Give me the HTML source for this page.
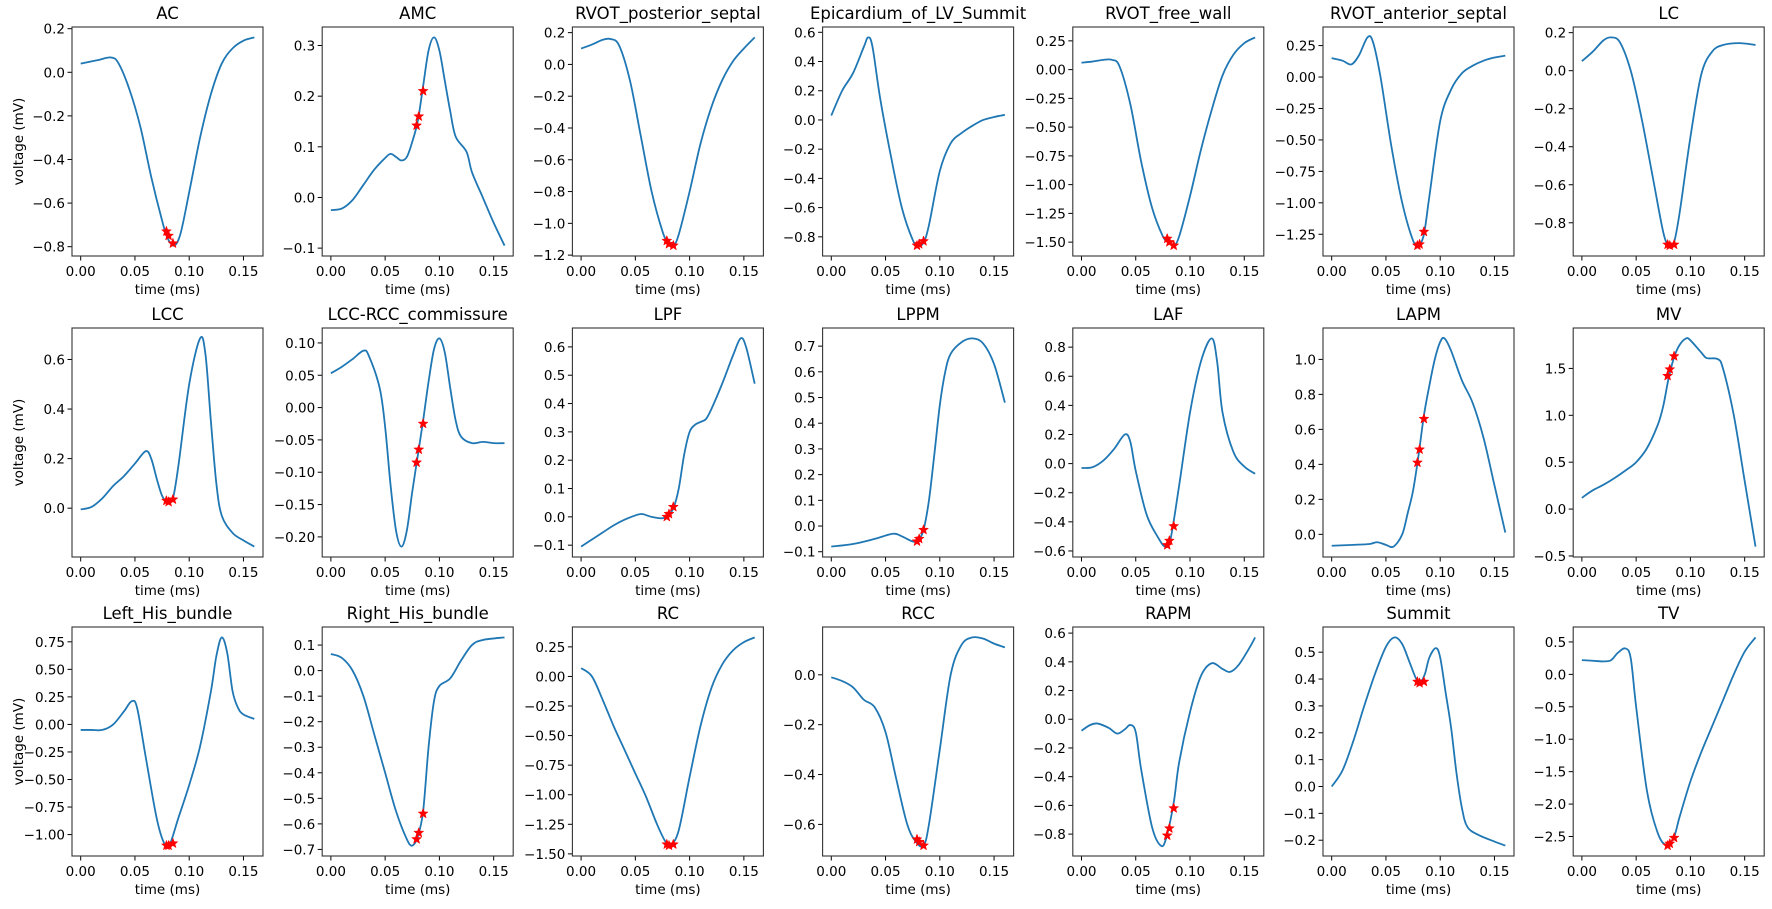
<!DOCTYPE html>
<html><head><meta charset="utf-8">
<style>
html,body{margin:0;padding:0;background:#fff;}
svg{display:block;font-family:"DejaVu Sans","Liberation Sans",sans-serif;}
</style></head>
<body>
<svg id="fig" width="1772" height="909" viewBox="0 0 1772 909" xmlns="http://www.w3.org/2000/svg"></svg>
<script>
// ---- data ----
const titles = ["AC","AMC","RVOT_posterior_septal","Epicardium_of_LV_Summit","RVOT_free_wall","RVOT_anterior_septal","LC",
"LCC","LCC-RCC_commissure","LPF","LPPM","LAF","LAPM","MV",
"Left_His_bundle","Right_His_bundle","RC","RCC","RAPM","Summit","TV"];
const xTicks = [0,0.05,0.10,0.15];
const xTickLabels = ["0.00","0.05","0.10","0.15"];
const times = [
[0,0.015,0.028,0.035,0.045,0.055,0.065,0.075,0.08,0.086,0.092,0.1,0.11,0.12,0.13,0.14,0.15,0.16],
[0,0.01,0.02,0.03,0.04,0.05,0.055,0.06,0.065,0.07,0.075,0.08,0.085,0.09,0.095,0.1,0.105,0.11,0.115,0.125,0.13,0.14,0.15,0.16],
[0,0.01,0.02,0.027,0.035,0.045,0.055,0.065,0.075,0.08,0.085,0.09,0.1,0.11,0.12,0.13,0.14,0.15,0.16],
[0,0.01,0.02,0.03,0.034,0.038,0.045,0.055,0.065,0.075,0.08,0.085,0.09,0.1,0.11,0.12,0.13,0.14,0.15,0.16],
[0,0.01,0.02,0.028,0.035,0.045,0.055,0.065,0.075,0.08,0.085,0.09,0.1,0.11,0.12,0.13,0.14,0.15,0.16],
[0,0.01,0.018,0.025,0.033,0.038,0.045,0.055,0.065,0.075,0.08,0.085,0.09,0.1,0.11,0.12,0.13,0.14,0.15,0.16],
[0,0.01,0.02,0.027,0.035,0.045,0.055,0.065,0.075,0.08,0.085,0.09,0.1,0.11,0.12,0.13,0.145,0.16],
[0,0.01,0.02,0.03,0.04,0.05,0.06,0.065,0.07,0.075,0.08,0.085,0.09,0.1,0.11,0.115,0.12,0.125,0.13,0.14,0.15,0.16],
[0,0.01,0.02,0.03,0.035,0.045,0.05,0.055,0.06,0.065,0.07,0.075,0.08,0.085,0.09,0.095,0.1,0.105,0.11,0.115,0.12,0.13,0.14,0.15,0.16],
[0,0.01,0.02,0.03,0.04,0.05,0.056,0.065,0.075,0.08,0.085,0.09,0.095,0.1,0.105,0.11,0.115,0.12,0.13,0.14,0.147,0.152,0.16],
[0,0.02,0.04,0.057,0.065,0.075,0.08,0.085,0.09,0.095,0.1,0.105,0.11,0.12,0.13,0.14,0.15,0.16],
[0,0.01,0.02,0.03,0.04,0.045,0.05,0.06,0.07,0.077,0.082,0.09,0.1,0.11,0.12,0.125,0.13,0.14,0.15,0.16],
[0,0.02,0.035,0.042,0.05,0.057,0.065,0.07,0.075,0.08,0.085,0.09,0.095,0.1,0.104,0.11,0.12,0.13,0.14,0.15,0.16],
[0,0.01,0.02,0.03,0.04,0.05,0.06,0.07,0.075,0.08,0.085,0.09,0.096,0.1,0.11,0.115,0.125,0.13,0.14,0.15,0.16],
[0,0.01,0.02,0.03,0.04,0.047,0.052,0.06,0.07,0.077,0.082,0.09,0.1,0.11,0.12,0.125,0.13,0.135,0.14,0.145,0.15,0.16],
[0,0.01,0.02,0.03,0.04,0.05,0.06,0.07,0.075,0.08,0.085,0.09,0.095,0.1,0.11,0.12,0.13,0.14,0.16],
[0,0.01,0.02,0.03,0.04,0.05,0.06,0.07,0.078,0.083,0.09,0.1,0.11,0.12,0.13,0.14,0.15,0.16],
[0,0.01,0.02,0.03,0.04,0.05,0.06,0.07,0.078,0.085,0.09,0.1,0.11,0.12,0.13,0.14,0.15,0.16],
[0,0.008,0.015,0.025,0.033,0.04,0.045,0.05,0.055,0.065,0.073,0.078,0.085,0.09,0.1,0.11,0.12,0.13,0.137,0.145,0.155,0.16],
[0,0.01,0.02,0.03,0.04,0.05,0.058,0.065,0.072,0.078,0.082,0.086,0.09,0.096,0.1,0.105,0.11,0.115,0.12,0.125,0.135,0.15,0.16],
[0,0.01,0.02,0.027,0.033,0.04,0.045,0.05,0.06,0.07,0.078,0.085,0.09,0.1,0.11,0.12,0.13,0.14,0.15,0.16]
];
const values = [
[0.04,0.055,0.068,0.04,-0.08,-0.25,-0.48,-0.68,-0.76,-0.795,-0.74,-0.55,-0.3,-0.1,0.04,0.11,0.145,0.16],
[-0.025,-0.022,-0.005,0.025,0.055,0.078,0.086,0.08,0.073,0.08,0.11,0.15,0.22,0.29,0.316,0.29,0.23,0.17,0.12,0.09,0.05,0.0,-0.05,-0.095],
[0.1,0.125,0.155,0.16,0.12,-0.1,-0.45,-0.8,-1.05,-1.12,-1.14,-1.07,-0.8,-0.5,-0.27,-0.1,0.02,0.1,0.17],
[0.03,0.2,0.32,0.5,0.565,0.5,0.15,-0.25,-0.6,-0.82,-0.86,-0.84,-0.72,-0.35,-0.16,-0.09,-0.04,0.0,0.02,0.035],
[0.06,0.07,0.085,0.085,0.03,-0.3,-0.8,-1.2,-1.45,-1.5,-1.53,-1.45,-1.1,-0.7,-0.35,-0.05,0.13,0.23,0.28],
[0.15,0.13,0.1,0.17,0.315,0.28,0.0,-0.55,-1.0,-1.3,-1.34,-1.25,-0.95,-0.35,-0.1,0.03,0.09,0.13,0.155,0.17],
[0.05,0.1,0.16,0.175,0.15,0.0,-0.25,-0.55,-0.85,-0.915,-0.9,-0.75,-0.35,-0.02,0.1,0.135,0.145,0.135],
[-0.005,0.005,0.04,0.09,0.13,0.18,0.23,0.2,0.12,0.05,0.025,0.04,0.17,0.5,0.685,0.62,0.35,0.1,-0.03,-0.1,-0.13,-0.155],
[0.053,0.063,0.075,0.088,0.08,0.03,-0.03,-0.12,-0.19,-0.215,-0.19,-0.13,-0.075,-0.02,0.04,0.09,0.107,0.085,0.03,-0.02,-0.045,-0.055,-0.053,-0.055,-0.055],
[-0.105,-0.08,-0.055,-0.03,-0.01,0.005,0.01,0.0,-0.005,0.005,0.03,0.1,0.22,0.3,0.325,0.335,0.345,0.38,0.47,0.57,0.63,0.6,0.47],
[-0.08,-0.07,-0.05,-0.03,-0.04,-0.06,-0.055,-0.015,0.1,0.28,0.47,0.6,0.67,0.715,0.73,0.71,0.63,0.48],
[-0.03,-0.025,0.02,0.1,0.2,0.15,-0.05,-0.35,-0.5,-0.57,-0.52,-0.15,0.35,0.7,0.86,0.7,0.35,0.08,-0.02,-0.07],
[-0.065,-0.06,-0.055,-0.045,-0.06,-0.07,0.0,0.12,0.25,0.45,0.68,0.85,1.0,1.1,1.12,1.05,0.88,0.75,0.55,0.28,0.01],
[0.12,0.2,0.26,0.33,0.41,0.5,0.65,0.9,1.1,1.4,1.62,1.75,1.82,1.8,1.67,1.61,1.6,1.5,1.0,0.3,-0.4],
[-0.05,-0.05,-0.05,0.0,0.12,0.21,0.15,-0.3,-0.85,-1.08,-1.09,-0.85,-0.55,-0.2,0.3,0.62,0.79,0.65,0.3,0.15,0.09,0.05],
[0.065,0.05,0.0,-0.1,-0.25,-0.4,-0.55,-0.66,-0.685,-0.65,-0.55,-0.3,-0.12,-0.06,-0.03,0.04,0.1,0.12,0.13],
[0.07,0.0,-0.2,-0.42,-0.62,-0.82,-1.02,-1.25,-1.4,-1.42,-1.3,-0.85,-0.42,-0.1,0.1,0.22,0.29,0.33],
[-0.01,-0.025,-0.05,-0.1,-0.13,-0.23,-0.42,-0.6,-0.67,-0.685,-0.6,-0.3,0.0,0.12,0.15,0.145,0.125,0.11],
[-0.08,-0.04,-0.03,-0.06,-0.1,-0.07,-0.04,-0.09,-0.35,-0.75,-0.88,-0.83,-0.58,-0.3,0.05,0.3,0.39,0.35,0.33,0.38,0.5,0.57],
[0.0,0.06,0.17,0.3,0.42,0.52,0.555,0.53,0.46,0.4,0.39,0.42,0.48,0.515,0.48,0.35,0.22,0.05,-0.08,-0.15,-0.18,-0.205,-0.22],
[0.22,0.21,0.2,0.22,0.33,0.4,0.25,-0.5,-1.8,-2.45,-2.63,-2.5,-2.2,-1.65,-1.2,-0.8,-0.4,0.0,0.35,0.57]
];
const starTimes = [0.079,0.081,0.085];
const starValues = [
[-0.73,-0.75,-0.785],[0.142,0.16,0.21],[-1.11,-1.13,-1.14],[-0.86,-0.85,-0.83],[-1.47,-1.5,-1.53],[-1.34,-1.33,-1.23],[-0.915,-0.92,-0.915],
[0.03,0.025,0.035],[-0.085,-0.065,-0.025],[0.0,0.01,0.035],[-0.06,-0.05,-0.015],[-0.56,-0.53,-0.43],[0.41,0.485,0.66],[1.42,1.49,1.63],
[-1.1,-1.1,-1.08],[-0.66,-0.635,-0.56],[-1.42,-1.43,-1.42],[-0.66,-0.67,-0.685],[-0.81,-0.76,-0.62],[0.39,0.385,0.39],[-2.64,-2.61,-2.52]
];
const yTicks = [
[0.2,0,-0.2,-0.4,-0.6,-0.8],[0.3,0.2,0.1,0,-0.1],[0.2,0,-0.2,-0.4,-0.6,-0.8,-1.0,-1.2],[0.6,0.4,0.2,0,-0.2,-0.4,-0.6,-0.8],
[0.25,0,-0.25,-0.5,-0.75,-1.0,-1.25,-1.5],[0.25,0,-0.25,-0.5,-0.75,-1.0,-1.25],[0.2,0,-0.2,-0.4,-0.6,-0.8],
[0.6,0.4,0.2,0],[0.1,0.05,0,-0.05,-0.1,-0.15,-0.2],[0.6,0.5,0.4,0.3,0.2,0.1,0,-0.1],[0.7,0.6,0.5,0.4,0.3,0.2,0.1,0,-0.1],
[0.8,0.6,0.4,0.2,0,-0.2,-0.4,-0.6],[1.0,0.8,0.6,0.4,0.2,0],[1.5,1.0,0.5,0,-0.5],
[0.75,0.5,0.25,0,-0.25,-0.5,-0.75,-1.0],[0.1,0,-0.1,-0.2,-0.3,-0.4,-0.5,-0.6,-0.7],[0.25,0,-0.25,-0.5,-0.75,-1.0,-1.25,-1.5],
[0,-0.2,-0.4,-0.6],[0.6,0.4,0.2,0,-0.2,-0.4,-0.6,-0.8],[0.5,0.4,0.3,0.2,0.1,0,-0.1,-0.2],[0.5,0,-0.5,-1.0,-1.5,-2.0,-2.5]
];
const yDecimals = [1,1,1,1,2,2,1, 1,2,1,1,1,1,1, 2,1,2,1,1,1,1];

// ---- layout ----
const NS="http://www.w3.org/2000/svg";
const svg=document.getElementById('fig');
const colLeft=72, colStep=250.2, axW=191, axH=229;
const rowTops=[27,328,627];
function mk(tag,attrs,parent){const e=document.createElementNS(NS,tag);for(const k in attrs)e.setAttribute(k,attrs[k]);(parent||svg).appendChild(e);return e;}
function fmt(v,d){let s=Math.abs(v).toFixed(d);return (v<-1e-9?"\u2212":"")+s;}

titles.forEach((title,i)=>{
  const col=i%7,row=Math.floor(i/7);
  const L=colLeft+colStep*col, T=rowTops[row], R=L+axW, B=T+axH;
  const g=mk('g',{});
  
  
  const ts=times[i], vs=values[i], sv=starValues[i];
  const all=vs.concat(sv);
  let mn=Math.min(...all), mx=Math.max(...all);
  const yr=mx-mn; const y0=mn-0.05*yr, y1=mx+0.05*yr;
  const x0=-0.008, x1=0.168;
  const X=t=>L+(t-x0)/(x1-x0)*axW;
  const Y=v=>B-(v-y0)/(y1-y0)*axH;
  // title
  const tt=mk('text',{x:(L+R)/2,y:T-8,'text-anchor':'middle','font-size':'16.5',fill:'#000'},g);
  tt.textContent=title;
  
  
  // x ticks
  xTicks.forEach((t,k)=>{
    const x=X(t);
    mk('line',{x1:x,y1:B,x2:x,y2:B+4.5,stroke:'#000','stroke-width':1},g);
    const tl=mk('text',{x:x,y:B+20,'text-anchor':'middle','font-size':'13.5',fill:'#000'},g);
    tl.textContent=xTickLabels[k];
    
    
  });
  const xl=mk('text',{x:(L+R)/2,y:B+38,'text-anchor':'middle','font-size':'13.5',fill:'#000'},g);
  xl.textContent='time (ms)';
  
  
  // y ticks
  yTicks[i].forEach(v=>{
    const y=Y(v);
    if(y<T-1||y>B+1)return;
    mk('line',{x1:L-4.5,y1:y,x2:L,y2:y,stroke:'#000','stroke-width':1},g);
    const yl=mk('text',{x:L-7,y:y+5,'text-anchor':'end','font-size':'13.5',fill:'#000'},g);
    yl.textContent=fmt(v,yDecimals[i]);
    
    
  });
  if(col===0){
    const yt=mk('text',{x:0,y:0,'text-anchor':'middle','font-size':'13.5',fill:'#000',transform:`translate(${L-49},${(T+B)/2}) rotate(-90)`},g);
    yt.textContent='voltage (mV)';
    
    
  }
  // curve (Catmull-Rom through pixel points)
  const P=ts.map((t,k)=>[X(t),Y(vs[k])]);
  let d='M'+P[0][0].toFixed(2)+','+P[0][1].toFixed(2);
  for(let k=0;k<P.length-1;k++){
    const p0=P[Math.max(0,k-1)],p1=P[k],p2=P[k+1],p3=P[Math.min(P.length-1,k+2)];
    const c1=[p1[0]+(p2[0]-p0[0])/6,p1[1]+(p2[1]-p0[1])/6];
    const c2=[p2[0]-(p3[0]-p1[0])/6,p2[1]-(p3[1]-p1[1])/6];
    d+=` C${c1[0].toFixed(2)},${c1[1].toFixed(2)} ${c2[0].toFixed(2)},${c2[1].toFixed(2)} ${p2[0].toFixed(2)},${p2[1].toFixed(2)}`;
  }
  const line=mk('path',{d:d,fill:'none',stroke:'#1f77b4','stroke-width':1.8,'stroke-linejoin':'round'},g);
  
  
  // stars
  starTimes.forEach((t,k)=>{
    const cx=X(t),cy=Y(sv[k]);
    let pts=[];
    for(let j=0;j<10;j++){const r=j%2?2.2:5.2;const a=-Math.PI/2+j*Math.PI/5;pts.push((cx+r*Math.cos(a)).toFixed(2)+','+(cy+r*Math.sin(a)).toFixed(2));}
    const s=mk('polygon',{points:pts.join(' '),fill:'#ff0000',stroke:'#ff0000','stroke-width':0.5},g);
    
    
  });
  // frame
  const fr=mk('rect',{x:L,y:T,width:axW,height:axH,fill:'none',stroke:'#333','stroke-width':1.1},g);
  
  
});
</script>
</body></html>
